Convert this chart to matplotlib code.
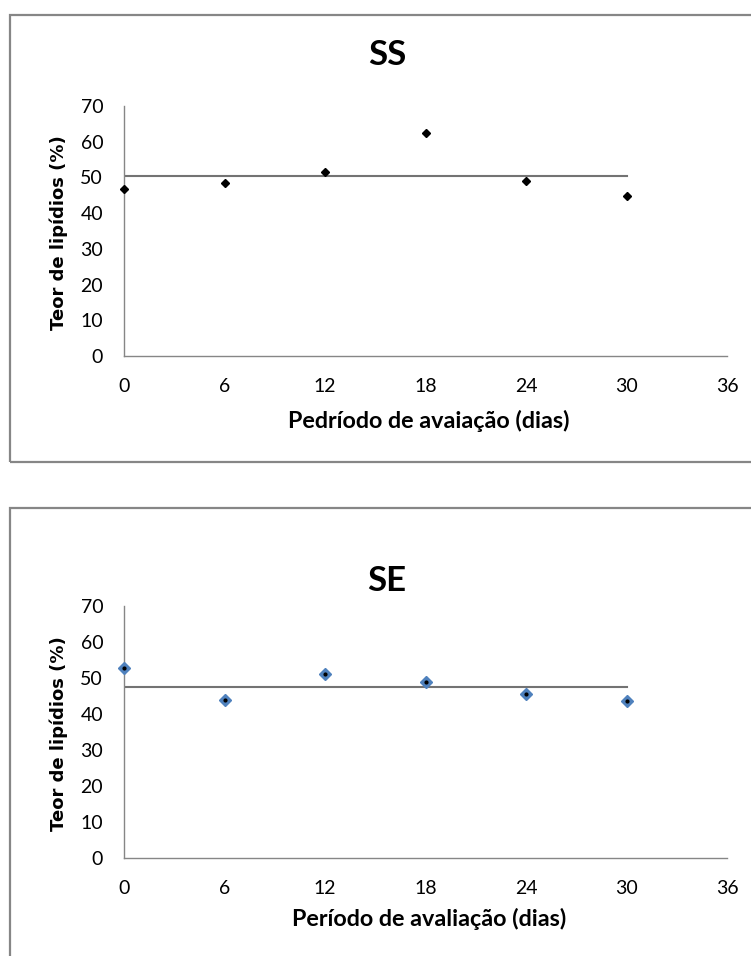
import matplotlib
matplotlib.use("Agg")
import matplotlib.pyplot as plt
from matplotlib.patches import Rectangle
import numpy as np

days = [0, 6, 12, 18, 24, 30]
ss_values = [46.7, 48.4, 51.5, 62.4, 49.0, 44.7]
se_values = [52.7, 44.0, 51.0, 48.8, 45.6, 43.7]
x_ticks = [0, 6, 12, 18, 24, 30, 36]
y_ticks = [0, 10, 20, 30, 40, 50, 60, 70]
titles = ["SS", "SE"]
xlabels = ["Pedríodo de avaiação (dias)", "Período de avaliação (dias)"]
ylabel = "Teor de lipídios (%)"

W, H = 751, 956
fig = plt.figure(figsize=(W / 100, H / 100), dpi=100)
fig.patch.set_facecolor("white")

def fx(px):
    return px / W

def fy(py):
    return 1 - py / H

# outer frames
frame_color = "#868686"
fig.patches.append(Rectangle((fx(10), fy(462)), fx(760) - fx(10), fy(15) - fy(462),
                             transform=fig.transFigure, fill=False, ec=frame_color, lw=1.6))
fig.patches.append(Rectangle((fx(10), fy(970)), fx(760) - fx(10), fy(508) - fy(970),
                             transform=fig.transFigure, fill=False, ec=frame_color, lw=1.6))

panels = [
    dict(vals=ss_values, y70=106, y0=356, title_y=55, xl_y=421),
    dict(vals=se_values, y70=606, y0=858, title_y=581, xl_y=919),
]

axis_left, axis_right = 124, 727
for i, p in enumerate(panels):
    ax = fig.add_axes([fx(axis_left), fy(p["y0"]), fx(axis_right) - fx(axis_left),
                       fy(p["y70"]) - fy(p["y0"])])
    ax.set_xlim(0, 36)
    ax.set_ylim(0, 70)
    ax.set_xticks(x_ticks)
    ax.set_yticks(y_ticks)
    ax.tick_params(length=0, labelsize=14, colors="#000000")
    ax.tick_params(axis="x", pad=16)
    ax.tick_params(axis="y", pad=15)
    for lab in ax.get_xticklabels() + ax.get_yticklabels():
        lab.set_fontfamily("Lato")
    for s in ["top", "right"]:
        ax.spines[s].set_visible(False)
    for s in ["left", "bottom"]:
        ax.spines[s].set_color("#868686")
        ax.spines[s].set_linewidth(1.0)
    ax.set_facecolor("none")
    mean_v = float(np.mean(p["vals"]))
    ax.plot([days[0], days[-1]], [mean_v, mean_v], color="#737373", lw=1.5, zorder=2)
    if i == 0:
        ax.plot(days, p["vals"], linestyle="none", marker="D", markersize=4,
                color="black", zorder=3, clip_on=False)
    else:
        ax.plot(days, p["vals"], linestyle="none", marker="D", markersize=6,
                color="#4F81BD", mec="#4F81BD", zorder=3, clip_on=False)
        ax.plot(days, p["vals"], linestyle="none", marker="o", markersize=2,
                color="black", zorder=4, clip_on=False)
    fig.text(fx(387), fy(p["title_y"]), titles[i], ha="center", va="center",
             fontsize=25, fontweight="bold", family="Lato")
    fig.text(fx(429), fy(p["xl_y"]), xlabels[i], ha="center", va="center",
             fontsize=16.8, fontweight="bold", family="Lato")
    fig.text(fx(59), fy((p["y70"] + p["y0"]) / 2 + 2), ylabel, ha="center", va="center",
             rotation=90, fontsize=13, fontweight="bold", family="DejaVu Sans")

fig.savefig("out.png", dpi=100, facecolor="white")
